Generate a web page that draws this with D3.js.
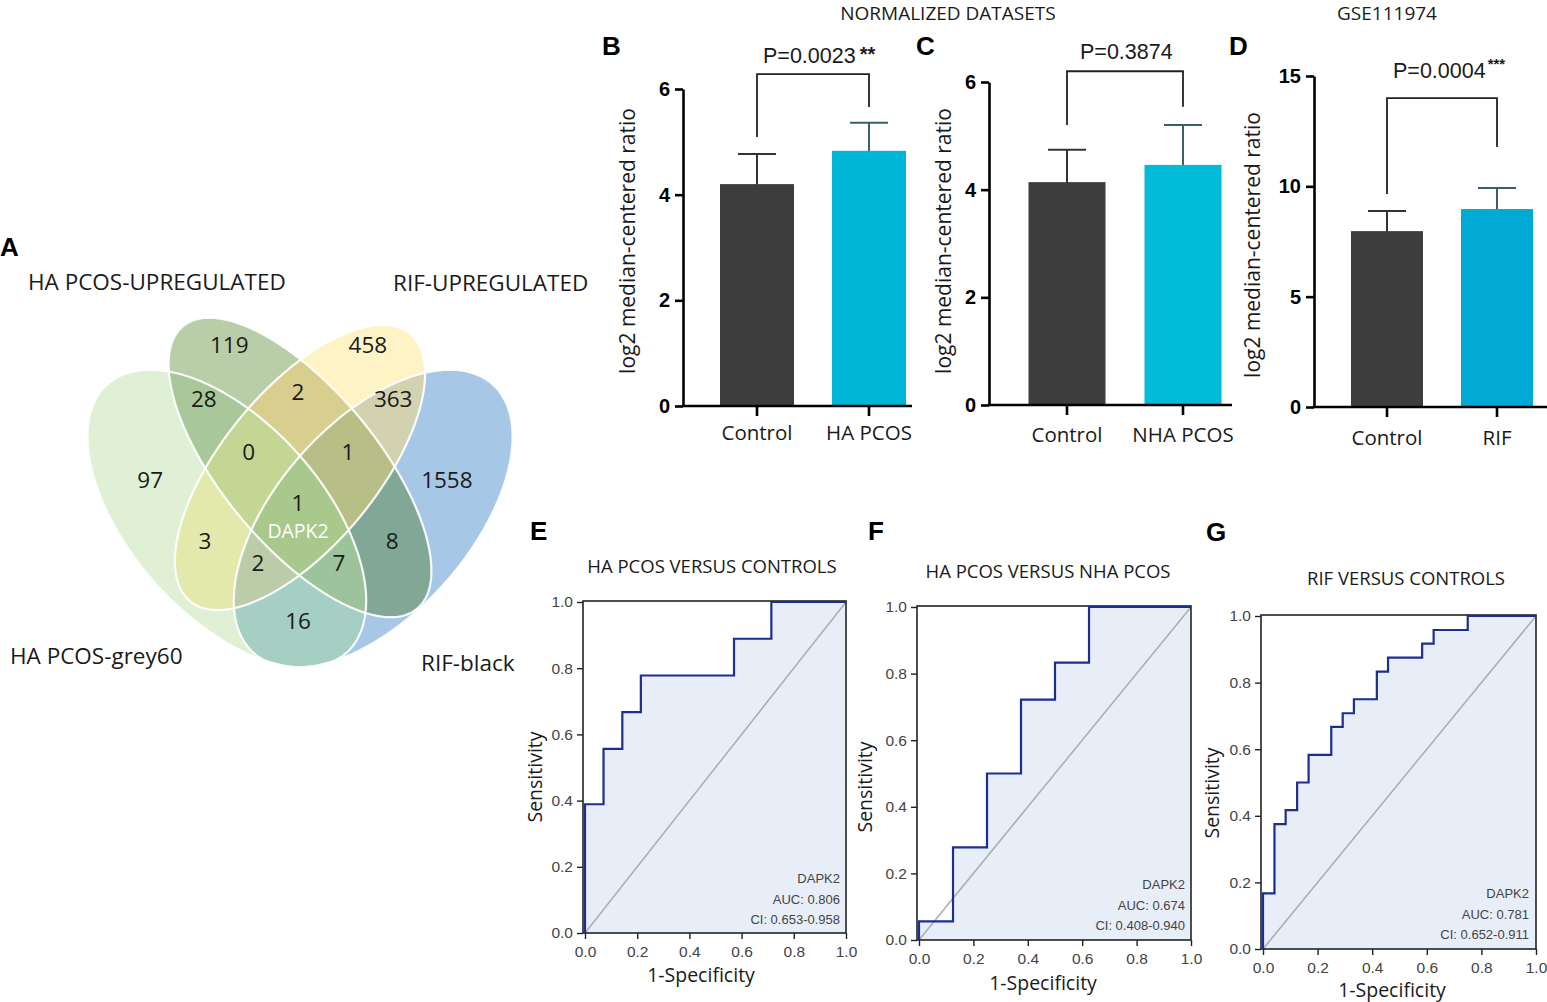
<!DOCTYPE html>
<html><head><meta charset="utf-8">
<script src="https://cdn.jsdelivr.net/npm/d3@7"></script>
<style>body{margin:0;background:#fff}svg{display:block}</style>
</head><body>
<svg id="fig" width="1547" height="1002"></svg>
<script>
// ================= DATA =================
// Venn (panel A)
const vennSetNames = ["HA PCOS-grey60","HA PCOS-UPREGULATED","RIF-UPREGULATED","RIF-black"];
const vennRegionKeys = ["1","2","3","4","12","23","34","123","234","1234","13","24","134","124","14"];
const vennRegionCounts = [97,119,458,1558,28,2,363,0,1,1,3,8,2,7,16];
const vennHighlightGene = "DAPK2";

// Bar panels (B, C, D): mean and upper SD
const barCatsB = ["Control","HA PCOS"];
const barMeansB = [4.20, 4.83];
const barErrB = [0.57, 0.53];
const barCatsC = ["Control","NHA PCOS"];
const barMeansC = [4.14, 4.46];
const barErrC = [0.60, 0.74];
const barCatsD = ["Control","RIF"];
const barMeansD = [7.97, 8.97];
const barErrD = [0.91, 0.95];
const yTicksB = [0,2,4,6];
const yTicksC = [0,2,4,6];
const yTicksD = [0,5,10,15];
const pValueLabels = ["P=0.0023","P=0.3874","P=0.0004"];
const pStars = ["**","","***"];

// ROC panels (E, F, G): 1-specificity / sensitivity step points
const rocE_x = [0,0,0.071,0.071,0.143,0.143,0.214,0.214,0.571,0.571,0.714,0.714,1];
const rocE_y = [0,0.389,0.389,0.556,0.556,0.667,0.667,0.778,0.778,0.889,0.889,1,1];
const rocF_x = [0,0,0.125,0.125,0.25,0.25,0.375,0.375,0.5,0.5,0.625,0.625,1];
const rocF_y = [0,0.056,0.056,0.278,0.278,0.5,0.5,0.722,0.722,0.833,0.833,1,1];
const rocG_x = [0,0,0.042,0.042,0.083,0.083,0.125,0.125,0.167,0.167,0.25,0.25,0.292,0.292,0.333,0.333,0.417,0.417,0.458,0.458,0.583,0.583,0.625,0.625,0.75,0.75,1];
const rocG_y = [0,0.167,0.167,0.375,0.375,0.417,0.417,0.5,0.5,0.583,0.583,0.667,0.667,0.708,0.708,0.75,0.75,0.833,0.833,0.875,0.875,0.917,0.917,0.958,0.958,1,1];
const rocTitles = ["HA PCOS VERSUS CONTROLS","HA PCOS VERSUS NHA PCOS","RIF VERSUS CONTROLS"];
const rocAUC = ["AUC: 0.806","AUC: 0.674","AUC: 0.781"];
const rocCI = ["CI: 0.653-0.958","CI: 0.408-0.940","CI: 0.652-0.911"];
const rocTicks = [0,0.2,0.4,0.6,0.8,1.0];

// ================= STYLE / LAYOUT =================
const W = 1547, H = 1002;
const SANS = "'Open Sans','Noto Sans',sans-serif";
const ARIAL = "'Liberation Sans',Arial,sans-serif";
const svg = d3.select('#fig');
const defs = svg.append('defs');

// ---------- Panel A: Venn ----------
const vx = d3.scaleLinear().domain([0,1]).range([56, 544]);
const vy = d3.scaleLinear().domain([0,1]).range([467.5+0.57*556, 467.5-0.43*556]);
const vennEllipses = [
  {cx:0.35, cy:0.478, a:0.345, b:0.185, rot:138.35},
  {cx:0.50, cy:0.57,  a:0.35,  b:0.15,  rot:135},
  {cx:0.50, cy:0.57,  a:0.33,  b:0.15,  rot:45},
  {cx:0.65, cy:0.478, a:0.345, b:0.185, rot:41.65}
];
const regionColors = {
  "1":"#dff0d5","2":"#b9cda8","3":"#fef3c4","4":"#a7c7e6",
  "12":"#a8c899","23":"#d8cf8e","34":"#d3d2b0","123":"#c4d694",
  "234":"#b8bf86","1234":"#a8c88c","13":"#e3e9ac","24":"#81a897",
  "134":"#bbcca8","124":"#9cc39b","14":"#a6cfc4"
};
const vennLabelPos = {
  "1":[0.193,0.547],"2":[0.355,0.790],"3":[0.639,0.790],"4":[0.801,0.547],
  "12":[0.303,0.693],"23":[0.496,0.706],"34":[0.691,0.693],"123":[0.395,0.598],
  "234":[0.598,0.598],"1234":[0.496,0.507],"13":[0.305,0.438],"24":[0.689,0.438],
  "134":[0.414,0.399],"124":[0.580,0.399],"14":[0.496,0.294]
};
function ellipsePath(e){
  const th = e.rot*Math.PI/180, pts=[];
  for(let i=0;i<360;i+=1){
    const t=i*Math.PI/180;
    const ux=e.cx+e.a*Math.cos(t)*Math.cos(th)-e.b*Math.sin(t)*Math.sin(th);
    const uy=e.cy+e.a*Math.cos(t)*Math.sin(th)+e.b*Math.sin(t)*Math.cos(th);
    pts.push([vx(ux),vy(uy)]);
  }
  return d3.line().curve(d3.curveLinearClosed)(pts);
}
const ePaths = vennEllipses.map(ellipsePath);
ePaths.forEach((p,i)=>{
  defs.append('clipPath').attr('id','vc'+(i+1)).append('path').attr('d',p);
});
const vennG = svg.append('g');
vennRegionKeys.forEach(key=>{
  const inSets = key.split('').map(Number);
  const m = defs.append('mask').attr('id','vm'+key).attr('maskUnits','userSpaceOnUse')
    .attr('x',0).attr('y',0).attr('width',W).attr('height',H);
  m.append('rect').attr('width',W).attr('height',H).attr('fill','#fff');
  [1,2,3,4].filter(s=>!inSets.includes(s)).forEach(s=>{
    m.append('path').attr('d',ePaths[s-1]).attr('fill','#000');
  });
  let g = vennG.append('g').attr('mask',`url(#vm${key})`);
  inSets.forEach(s=>{ g = g.append('g').attr('clip-path',`url(#vc${s})`); });
  g.append('rect').attr('x',0).attr('y',200).attr('width',600).attr('height',520)
    .attr('fill',regionColors[key]);
});
ePaths.forEach(p=>{
  vennG.append('path').attr('d',p).attr('fill','none')
    .attr('stroke','#fff').attr('stroke-width',2.2).attr('stroke-opacity',0.9);
});
vennRegionKeys.forEach((key,i)=>{
  const [ux,uy]=vennLabelPos[key];
  vennG.append('text').attr('x',vx(ux)).attr('y',vy(uy)).attr('dy','0.36em')
    .attr('text-anchor','middle').attr('font-family',SANS).attr('font-size',22.5)
    .attr('fill','#1a1a1a').text(vennRegionCounts[i]);
});
vennG.append('text').attr('x',vx(0.496)).attr('y',vy(0.455)).attr('dy','0.36em')
  .attr('text-anchor','middle').attr('font-family',SANS).attr('font-size',19.5)
  .attr('fill','#fff').text(vennHighlightGene);
const vennSetLabelPos = [[10,664],[28,290],[393,291],[421,671]];
vennSetNames.forEach((n,i)=>{
  svg.append('text').attr('x',vennSetLabelPos[i][0]).attr('y',vennSetLabelPos[i][1])
    .attr('font-family',SANS).attr('font-size',22.5).attr('fill','#1a1a1a').text(n);
});

// ---------- Panel letters & headers ----------
const panelLetters = [["A",0,256],["B",602,55],["C",916,55],["D",1229,55],["E",530,540],["F",868,540],["G",1206,541]];
panelLetters.forEach(([t,x,y])=>{
  svg.append('text').attr('x',x).attr('y',y).attr('font-family',ARIAL)
    .attr('font-weight','bold').attr('font-size',26).attr('fill','#000').text(t);
});
svg.append('text').attr('x',948).attr('y',20).attr('text-anchor','middle')
  .attr('font-family',SANS).attr('font-size',19).attr('fill','#1a1a1a').text('NORMALIZED DATASETS');
svg.append('text').attr('x',1387).attr('y',20).attr('text-anchor','middle')
  .attr('font-family',SANS).attr('font-size',19).attr('fill','#1a1a1a').text('GSE111974');

// ---------- Bar panels ----------
function drawBars(cfg){
  const g = svg.append('g');
  const y = d3.scaleLinear().domain([0,cfg.yMax]).range([cfg.y0,cfg.yTop]);
  const x = d3.scalePoint().domain(cfg.cats).range(cfg.xCenters);
  cfg.cats.forEach((c,i)=>{
    const col = i===0 ? '#3d3d3d' : cfg.color;
    const ecol = i===0 ? '#333' : '#3a5f6c';
    g.append('line').attr('x1',x(c)).attr('x2',x(c)).attr('y1',y(cfg.means[i])+1).attr('y2',y(cfg.means[i]+cfg.errs[i]))
      .attr('stroke',ecol).attr('stroke-width',2);
    g.append('line').attr('x1',x(c)-cfg.capW/2).attr('x2',x(c)+cfg.capW/2)
      .attr('y1',y(cfg.means[i]+cfg.errs[i])).attr('y2',y(cfg.means[i]+cfg.errs[i]))
      .attr('stroke',ecol).attr('stroke-width',2);
    g.append('rect').attr('x',x(c)-cfg.barW/2).attr('width',cfg.barW)
      .attr('y',y(cfg.means[i])).attr('height',y(0)-y(cfg.means[i])).attr('fill',col);
  });
  const ya = g.append('g').attr('transform',`translate(${cfg.axisX},0)`)
    .call(d3.axisLeft(y).tickValues(cfg.ticks).tickFormat(d3.format('d')).tickSize(8).tickSizeOuter(0).tickPadding(5));
  ya.select('.domain').attr('stroke','#000').attr('stroke-width',2.6);
  ya.selectAll('.tick line').attr('stroke','#000').attr('stroke-width',2.6);
  ya.selectAll('.tick text').attr('font-family',ARIAL).attr('font-weight','bold')
    .attr('font-size',20).attr('fill','#000');
  g.append('line').attr('x1',cfg.axisX-1.3).attr('x2',cfg.xEnd).attr('y1',y(0)).attr('y2',y(0))
    .attr('stroke','#000').attr('stroke-width',2.6);
  cfg.cats.forEach(c=>{
    g.append('line').attr('x1',x(c)).attr('x2',x(c)).attr('y1',y(0)).attr('y2',y(0)+10)
      .attr('stroke','#000').attr('stroke-width',2.6);
    g.append('text').attr('x',x(c)).attr('y',cfg.catY).attr('text-anchor','middle')
      .attr('font-family',SANS).attr('font-size',20.5).attr('fill','#1a1a1a').text(c);
  });
  g.append('text').attr('transform',`translate(${cfg.ylabX},${cfg.ylabY}) rotate(-90)`)
    .attr('text-anchor','middle').attr('dy','0.35em').attr('font-family',SANS).attr('font-size',21)
    .attr('fill','#1a1a1a').text('log2 median-centered ratio');
  const [c0,c1]=cfg.cats;
  g.append('path').attr('d',d3.line()([[x(c0),y(cfg.brLeft)],[x(c0),y(cfg.brTop)],[x(c1),y(cfg.brTop)],[x(c1),y(cfg.brRight)]]))
    .attr('fill','none').attr('stroke','#222').attr('stroke-width',1.8);
  const t = g.append('text').attr('x',cfg.pX).attr('y',cfg.pY).attr('text-anchor','start')
    .attr('font-family',ARIAL).attr('font-size',21.5).attr('fill','#1a1a1a').text(cfg.p);
  if(cfg.stars){
    t.append('tspan').attr('dx',cfg.starDx).attr('dy',cfg.starDy).attr('font-size',cfg.starSize)
      .attr('font-weight','bold').text(cfg.stars);
  }
}
drawBars({cats:barCatsB,means:barMeansB,errs:barErrB,ticks:yTicksB,yMax:6,y0:406,yTop:89,
  axisX:683,xCenters:[757,869],barW:74,capW:38,xEnd:912,color:'#00b6d6',catY:440,
  ylabX:628,ylabY:241,brTop:6.28,brLeft:5.09,brRight:5.66,p:pValueLabels[0],pX:763,pY:63,
  stars:pStars[0],starDx:4,starDy:-2,starSize:20});
drawBars({cats:barCatsC,means:barMeansC,errs:barErrC,ticks:yTicksC,yMax:6,y0:405,yTop:82,
  axisX:989,xCenters:[1067,1183],barW:77,capW:38,xEnd:1232,color:'#00bcd8',catY:442,
  ylabX:944,ylabY:241,brTop:6.2,brLeft:5.2,brRight:5.54,p:pValueLabels[1],pX:1080,pY:59,
  stars:pStars[1]});
drawBars({cats:barCatsD,means:barMeansD,errs:barErrD,ticks:yTicksD,yMax:15,y0:407,yTop:76,
  axisX:1314,xCenters:[1387,1497],barW:72,capW:38,xEnd:1547,color:'#00aad2',catY:445,
  ylabX:1253,ylabY:245,brTop:14.0,brLeft:9.65,brRight:11.78,p:pValueLabels[2],pX:1393,pY:78,
  stars:pStars[2],starDx:2,starDy:-9,starSize:15});

// ---------- ROC panels ----------
function drawRoc(cfg){
  const g = svg.append('g');
  const x = d3.scaleLinear().domain([0,1]).range([cfg.x0,cfg.x1]);
  const y = d3.scaleLinear().domain([0,1]).range([cfg.y0,cfg.y1]);
  const pts = cfg.xs.map((v,i)=>[v,cfg.ys[i]]);
  g.append('path').attr('d',d3.area().x(d=>x(d[0])).y0(y(0)).y1(d=>y(d[1]))(pts))
    .attr('fill','#e7eef8');
  g.append('line').attr('x1',x(0)).attr('y1',y(0)).attr('x2',x(1)).attr('y2',y(1))
    .attr('stroke','#a9adb3').attr('stroke-width',1.5);
  g.append('rect').attr('x',x(0)-2).attr('y',y(1)-1).attr('width',x(1)-x(0)+2).attr('height',y(0)-y(1)+1)
    .attr('fill','none').attr('stroke','#222').attr('stroke-width',1.6);
  g.append('path').attr('d',d3.line().x(d=>x(d[0])).y(d=>y(d[1]))(pts))
    .attr('fill','none').attr('stroke','#1c2e8e').attr('stroke-width',2.2);
  const ax = g.append('g').attr('transform',`translate(0,${y(0)})`)
    .call(d3.axisBottom(x).tickValues(rocTicks).tickFormat(d3.format('.1f')).tickSize(6).tickSizeOuter(0).tickPadding(7));
  const ay = g.append('g').attr('transform',`translate(${x(0)-2},0)`)
    .call(d3.axisLeft(y).tickValues(rocTicks).tickFormat(d3.format('.1f')).tickSize(6).tickSizeOuter(0).tickPadding(4));
  [ax,ay].forEach(a=>{
    a.select('.domain').remove();
    a.selectAll('.tick line').attr('stroke','#222').attr('stroke-width',1.4);
    a.selectAll('.tick text').attr('font-family',ARIAL).attr('font-size',15.5).attr('fill','#444');
  });
  g.append('text').attr('x',cfg.titleX).attr('y',cfg.titleY).attr('text-anchor','middle')
    .attr('font-family',SANS).attr('font-size',18.5).attr('fill','#1a1a1a').text(cfg.title);
  g.append('text').attr('x',cfg.xlabX).attr('y',cfg.xlabY).attr('text-anchor','middle')
    .attr('font-family',SANS).attr('font-size',19.5).attr('fill','#1a1a1a').text('1-Specificity');
  g.append('text').attr('transform',`translate(${cfg.ylabX},${cfg.ylabY}) rotate(-90)`)
    .attr('text-anchor','middle').attr('dy','0.35em').attr('font-family',SANS).attr('font-size',19.5)
    .attr('fill','#1a1a1a').text('Sensitivity');
  [[vennHighlightGene,0],[cfg.auc,1],[cfg.ci,2]].forEach(([t,i])=>{
    g.append('text').attr('x',cfg.annX).attr('y',cfg.annY+i*20.5).attr('text-anchor','end')
      .attr('font-family',ARIAL).attr('font-size',13).attr('fill','#444').text(t);
  });
}
drawRoc({xs:rocE_x,ys:rocE_y,x0:585,x1:846,y0:933,y1:602,title:rocTitles[0],titleX:712,titleY:573,
  xlabX:701,xlabY:982,ylabX:535,ylabY:777,auc:rocAUC[0],ci:rocCI[0],annX:840,annY:883});
drawRoc({xs:rocF_x,ys:rocF_y,x0:919,x1:1191,y0:940,y1:607,title:rocTitles[1],titleX:1048,titleY:578,
  xlabX:1043,xlabY:990,ylabX:865,ylabY:787,auc:rocAUC[1],ci:rocCI[1],annX:1185,annY:889});
drawRoc({xs:rocG_x,ys:rocG_y,x0:1263,x1:1536,y0:949,y1:616,title:rocTitles[2],titleX:1406,titleY:585,
  xlabX:1392,xlabY:997,ylabX:1212,ylabY:793,auc:rocAUC[2],ci:rocCI[2],annX:1529,annY:898});
</script>
</body></html>
